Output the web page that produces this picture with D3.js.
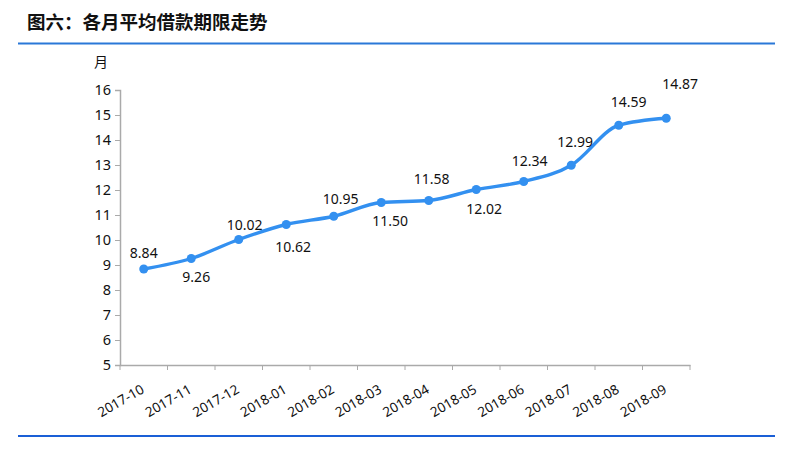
<!DOCTYPE html>
<html><head><meta charset="utf-8">
<script src="https://cdn.jsdelivr.net/npm/d3@7/dist/d3.min.js"></script>
<style>
html,body{margin:0;padding:0;background:#fff;}
svg{display:block;font-family:"Noto Sans","Noto Sans CJK SC",sans-serif;}
</style></head>
<body><svg id="c" width="800" height="458"></svg>
<script>
const months = ["2017-10","2017-11","2017-12","2018-01","2018-02","2018-03","2018-04","2018-05","2018-06","2018-07","2018-08","2018-09"];
const avgTerm = [8.84, 9.26, 10.02, 10.62, 10.95, 11.50, 11.58, 12.02, 12.34, 12.99, 14.59, 14.87];
const labelSide = ["top","bottom","top","bottom","top","bottom","top","bottom","top","top","top","top"];
const yTicks = [5,6,7,8,9,10,11,12,13,14,15,16];
const titleText = "图六：各月平均借款期限走势";
const unitText = "月";

const svg = d3.select("#c");
const x = d3.scaleBand().domain(months).range([120, 690]).padding(0);
const y = d3.scaleLinear().domain([5, 16]).range([365, 90]);
const blue = "#3390f0";

// title and rules
svg.append("text").attr("x", 27).attr("y", 29).attr("font-size", 18.5).attr("font-weight", "bold")
  .attr("font-family", "'Noto Sans CJK SC',sans-serif").attr("fill", "#111").text(titleText);
svg.append("rect").attr("x", 18).attr("y", 42.5).attr("width", 757).attr("height", 2).attr("fill", "#2a78d8");
svg.append("rect").attr("x", 18).attr("y", 435).attr("width", 757).attr("height", 2).attr("fill", "#1a5fd6");

// y axis
const yAxis = svg.append("g").attr("transform", "translate(120,0)")
  .call(d3.axisLeft(y).tickValues(yTicks).tickSize(5).tickPadding(4).tickFormat(d3.format("d")));
yAxis.select(".domain").attr("stroke", "#aaa").attr("stroke-width", 1.5);
yAxis.selectAll(".tick line").attr("stroke", "#aaa");
yAxis.selectAll(".tick text").attr("font-size", 14.5).attr("fill", "#111").attr("font-family", "'Noto Sans',sans-serif");

svg.append("text").attr("x", 101).attr("y", 67).attr("text-anchor", "middle").attr("font-size", 14)
  .attr("font-family", "'Noto Sans CJK SC',sans-serif").attr("fill", "#111").text(unitText);

// x axis
const xAxis = svg.append("g").attr("transform", "translate(0,365)")
  .call(d3.axisBottom(x).tickSize(0).tickFormat(""));
xAxis.select(".domain").attr("stroke", "#aaa").attr("stroke-width", 1.5);
const bounds = months.map(m => x(m)).concat([x.range()[1]]);
xAxis.selectAll("line.bt").data(bounds).enter().append("line").attr("class", "bt")
  .attr("x1", d => d).attr("x2", d => d).attr("y1", 0).attr("y2", 5).attr("stroke", "#aaa");
svg.append("g").selectAll("text").data(months).enter().append("text")
  .attr("transform", d => `translate(${x(d) + x.bandwidth() / 2 - 1},388) rotate(-30)`)
  .attr("text-anchor", "end").attr("dy", "0.35em").attr("font-size", 13.5).attr("fill", "#111")
  .attr("font-family", "'Noto Sans',sans-serif").text(d => d);

// line
const cx = (d, i) => x(months[i]) + x.bandwidth() / 2;
const line = d3.line().x((d, i) => cx(d, i)).y(d => y(d)).curve(d3.curveMonotoneX);
svg.append("path").datum(avgTerm).attr("d", line).attr("fill", "none")
  .attr("stroke", blue).attr("stroke-width", 3.4).attr("stroke-linejoin", "round");
svg.append("g").selectAll("circle").data(avgTerm).enter().append("circle")
  .attr("cx", (d, i) => cx(d, i)).attr("cy", d => y(d)).attr("r", 4.5).attr("fill", blue);

// labels
const nudge = [[0,-11],[5,23],[6,-10],[7,27],[7,-12],[9,23],[3,-17],[8,24],[6,-16],[4,-18],[10,-18],[14,-29]];
svg.append("g").selectAll("text").data(avgTerm).enter().append("text")
  .attr("x", (d, i) => cx(d, i) + nudge[i][0])
  .attr("y", (d, i) => y(d) + nudge[i][1])
  .attr("text-anchor", "middle").attr("font-size", 14).attr("fill", "#111")
  .attr("font-family", "'Noto Sans',sans-serif")
  .text(d => d.toFixed(2));
</script></body></html>
